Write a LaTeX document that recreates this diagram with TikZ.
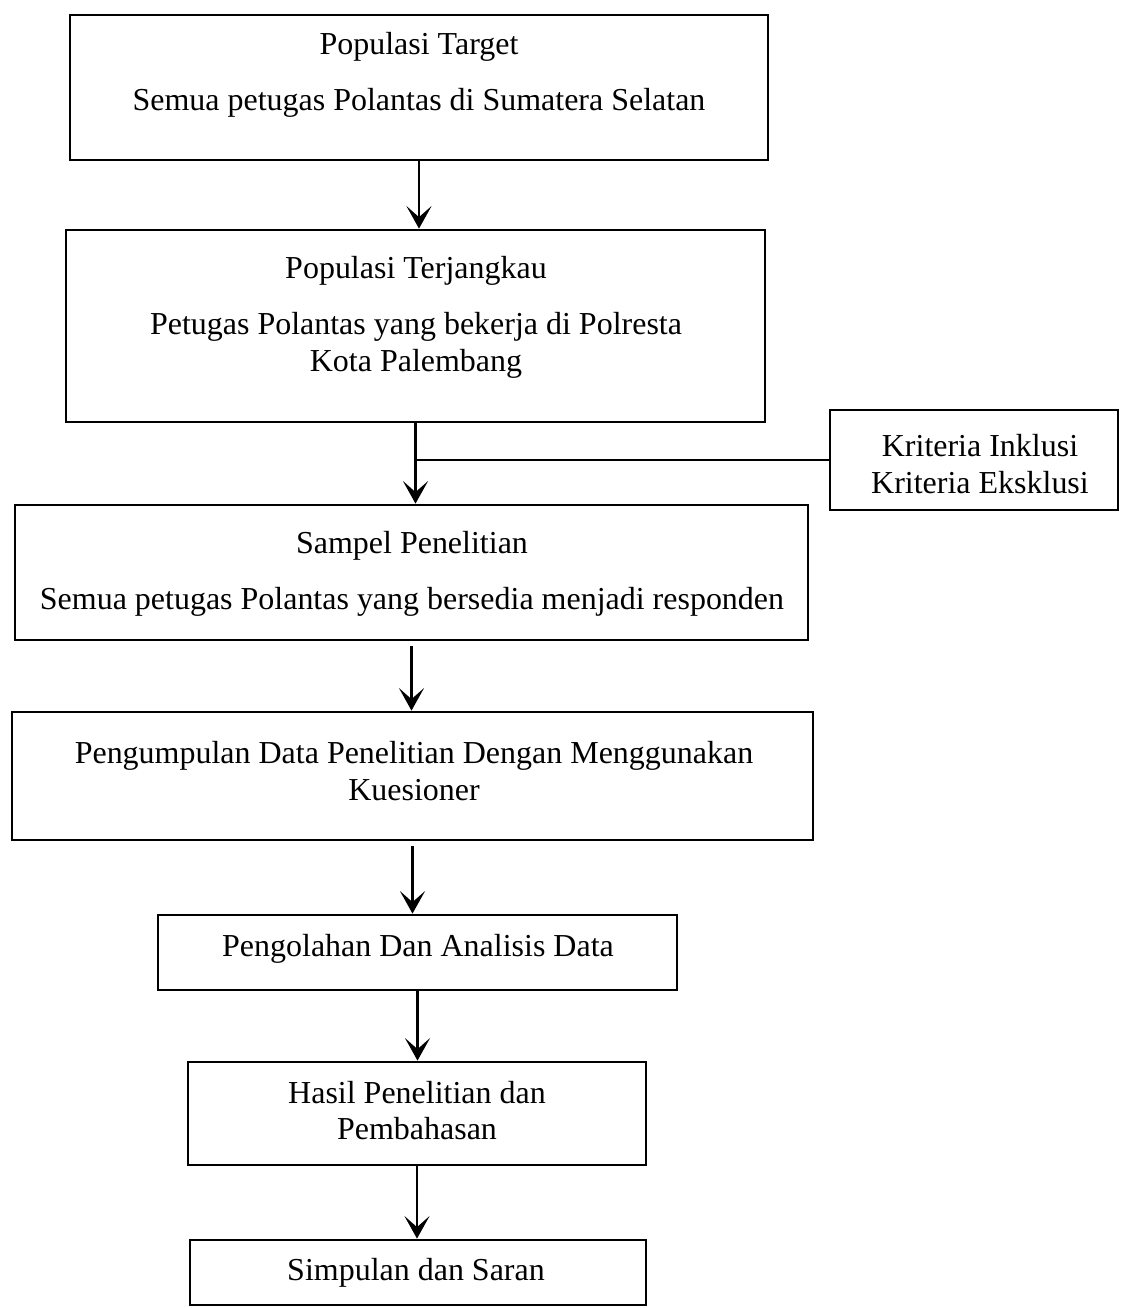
\documentclass[tikz,border=0pt]{standalone}
\usepackage{fontspec}
\setmainfont{Liberation Serif}
\usetikzlibrary{arrows.meta}
\tikzset{
	kotak/.style={draw, line width=1.6pt, rectangle, inner sep=0pt},
	tulisan/.style={align=center, inner sep=0pt, font=\fontsize{18.2}{21}\selectfont},
	panah/.style={line width=1.5pt, -{Stealth[length=0.45cm, width=0.5cm, inset=0.22cm]}},
	garis/.style={line width=1pt}
}
\begin{document}
\begin{tikzpicture}[x=0.02cm, y=-0.02cm]
	\useasboundingbox (0,0) rectangle (1120,1308);
	% Kotak-kotak alur
	\node [kotak, minimum width=13.96cm, minimum height=2.9cm] (target) at (419,87.5) {};
	\node [kotak, minimum width=13.98cm, minimum height=3.84cm] (terjangkau) at (415.5,326) {};
	\node [kotak, minimum width=5.76cm, minimum height=2cm] (kriteria) at (974,460) {};
	\node [kotak, minimum width=15.86cm, minimum height=2.7cm] (sampel) at (411.5,572.5) {};
	\node [kotak, minimum width=16.02cm, minimum height=2.56cm] (kumpul) at (412.5,776) {};
	\node [kotak, minimum width=10.38cm, minimum height=1.5cm] (olah) at (417.5,952.5) {};
	\node [kotak, minimum width=9.16cm, minimum height=2.06cm] (hasil) at (417,1113.5) {};
	\node [kotak, minimum width=9.12cm, minimum height=1.3cm] (simpulan) at (418,1272.5) {};
	% Isi kotak
	\node [tulisan] (t-target) at (419,75) {Populasi Target\\[11pt]Semua petugas Polantas di Sumatera Selatan};
	\node [tulisan] (t-terjangkau) at (416,317) {Populasi Terjangkau\\[11pt]Petugas Polantas yang bekerja di Polresta\\Kota Palembang};
	\node [tulisan] (t-kriteria) at (980,464) {Kriteria Inklusi\\Kriteria Eksklusi};
	\node [tulisan] (t-sampel) at (412,574) {Sampel Penelitian\\[11pt]Semua petugas Polantas yang bersedia menjadi responden};
	\node [tulisan] (t-kumpul) at (414,771.5) {Pengumpulan Data Penelitian Dengan Menggunakan\\Kuesioner};
	\node [tulisan] (t-olah) at (418,948.5) {Pengolahan Dan Analisis Data};
	\node [tulisan] (t-hasil) at (417,1110.5) {Hasil Penelitian dan\\Pembahasan};
	\node [tulisan] (t-simpulan) at (416,1272.5) {Simpulan dan Saran};
	% Panah
	\draw [panah] (target.south) -- (target.south |- terjangkau.north);
	\draw [panah] (terjangkau.south) -- (terjangkau.south |- sampel.north);
	\draw [garis] (kriteria.west) -- (kriteria.west -| terjangkau.south);
	\draw [panah] (sampel.south) ++(0,5) -- (sampel.south |- kumpul.north);
	\draw [panah] (kumpul.south) ++(0,5) -- (kumpul.south |- olah.north);
	\draw [panah] (olah.south) -- (olah.south |- hasil.north);
	\draw [panah] (hasil.south) -- (hasil.south |- simpulan.north);
\end{tikzpicture}
\end{document}
